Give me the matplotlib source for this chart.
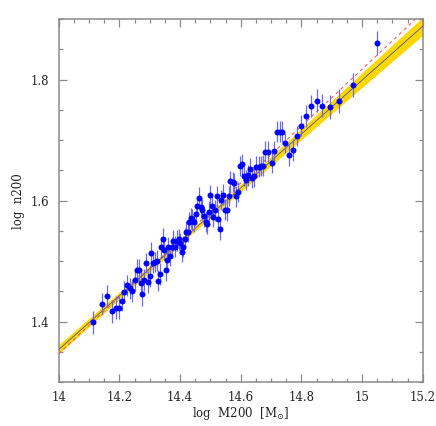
import matplotlib
matplotlib.use("Agg")
import matplotlib.pyplot as plt
from matplotlib.ticker import MultipleLocator, FixedLocator
import numpy as np

# ---- data ----
log_m200 = [14.112, 14.142, 14.159, 14.176, 14.188, 14.199, 14.209, 14.216, 14.225, 14.234,
            14.243, 14.251, 14.257, 14.266, 14.270, 14.276, 14.281, 14.287, 14.295, 14.300,
            14.305, 14.311, 14.319, 14.325, 14.327, 14.333, 14.337, 14.343, 14.347, 14.353,
            14.357, 14.362, 14.367, 14.373, 14.378, 14.385, 14.390, 14.396, 14.401, 14.405,
            14.411, 14.416, 14.421, 14.425, 14.430, 14.435, 14.441, 14.446, 14.453, 14.457,
            14.463, 14.468, 14.474, 14.479, 14.485, 14.489, 14.495, 14.499, 14.504, 14.510,
            14.515, 14.521, 14.525, 14.531, 14.536, 14.542, 14.547, 14.554, 14.560, 14.566,
            14.573, 14.579, 14.585, 14.591, 14.598, 14.604, 14.611, 14.618, 14.624, 14.632,
            14.638, 14.645, 14.652, 14.659, 14.666, 14.674, 14.681, 14.689, 14.702, 14.710,
            14.721, 14.730, 14.737, 14.746, 14.758, 14.771, 14.785, 14.799, 14.814, 14.831,
            14.851, 14.869, 14.893, 14.923, 14.969, 15.049]
log_n200 = [1.399, 1.429, 1.442, 1.417, 1.423, 1.423, 1.435, 1.449, 1.460, 1.455,
            1.451, 1.469, 1.486, 1.486, 1.464, 1.445, 1.469, 1.497, 1.466, 1.476,
            1.514, 1.497, 1.499, 1.501, 1.468, 1.479, 1.523, 1.537, 1.519, 1.485,
            1.502, 1.523, 1.509, 1.523, 1.534, 1.524, 1.534, 1.536, 1.530, 1.516,
            1.524, 1.537, 1.549, 1.549, 1.564, 1.571, 1.569, 1.565, 1.578, 1.591,
            1.605, 1.589, 1.585, 1.574, 1.565, 1.562, 1.582, 1.609, 1.591, 1.573,
            1.584, 1.607, 1.570, 1.553, 1.601, 1.610, 1.585, 1.584, 1.608, 1.632,
            1.631, 1.629, 1.607, 1.614, 1.657, 1.660, 1.641, 1.634, 1.642, 1.653,
            1.638, 1.640, 1.656, 1.656, 1.657, 1.658, 1.681, 1.681, 1.662, 1.682,
            1.714, 1.714, 1.714, 1.695, 1.676, 1.684, 1.707, 1.724, 1.740, 1.756,
            1.765, 1.757, 1.755, 1.765, 1.791, 1.860]
n200_err = [0.019, 0.018, 0.018, 0.019, 0.019, 0.019, 0.018, 0.018, 0.018, 0.018,
            0.018, 0.018, 0.018, 0.018, 0.018, 0.019, 0.018, 0.017, 0.018, 0.018,
            0.017, 0.017, 0.017, 0.017, 0.018, 0.018, 0.017, 0.017, 0.017, 0.018,
            0.017, 0.017, 0.017, 0.017, 0.017, 0.017, 0.017, 0.017, 0.017, 0.017,
            0.017, 0.017, 0.017, 0.017, 0.017, 0.017, 0.017, 0.017, 0.017, 0.017,
            0.017, 0.017, 0.017, 0.017, 0.017, 0.017, 0.017, 0.017, 0.017, 0.017,
            0.017, 0.017, 0.017, 0.018, 0.017, 0.017, 0.017, 0.017, 0.017, 0.017,
            0.017, 0.017, 0.017, 0.017, 0.017, 0.017, 0.017, 0.017, 0.017, 0.017,
            0.017, 0.017, 0.017, 0.017, 0.017, 0.017, 0.017, 0.017, 0.017, 0.017,
            0.017, 0.017, 0.017, 0.017, 0.018, 0.018, 0.017, 0.017, 0.018, 0.018,
            0.019, 0.019, 0.020, 0.020, 0.020, 0.020]

# best-fit relation and its uncertainty band
fit_x = [14.0, 15.2]
fit_y = [1.354, 1.888]
band_x = [14.0, 14.45, 15.2]
band_lo = [1.347, 1.550, 1.873]
band_hi = [1.362, 1.558, 1.903]
alt_x = [14.0, 15.2]
alt_y = [1.347, 1.911]

xticks = [14, 14.2, 14.4, 14.6, 14.8, 15, 15.2]
xticklabels = ["14", "14.2", "14.4", "14.6", "14.8", "15", "15.2"]
yticks = [1.4, 1.6, 1.8]
yticklabels = ["1.4", "1.6", "1.8"]

plt.rcParams['font.family'] = ['DejaVu Serif']
plt.rcParams['mathtext.fontset'] = 'dejavuserif'

fig = plt.figure(figsize=(4.36, 4.26), dpi=100)
ax = fig.add_axes([0.1346, 0.1026, 0.8349, 0.8528])

ax.fill_between(band_x, band_lo, band_hi, color='#ffd700', lw=0, zorder=1)
ax.plot(alt_x, alt_y, color='#ff5a5a', lw=0.8, dashes=(3, 3), zorder=2)
ax.plot(fit_x, fit_y, color='#5050a8', lw=0.6, zorder=3)
ax.errorbar(log_m200, log_n200, yerr=n200_err, fmt='none', ecolor='#6a6af0',
            elinewidth=0.9, capsize=0, zorder=4)
ax.plot(log_m200, log_n200, 'o', color='#0000ff', ms=4.3, mec='none', zorder=5)

ax.set_xlim(14, 15.2)
ax.set_ylim(1.3, 1.9)
ax.xaxis.set_major_locator(FixedLocator(xticks))
ax.set_xticklabels(xticklabels)
ax.yaxis.set_major_locator(FixedLocator(yticks))
ax.set_yticklabels(yticklabels)
ax.xaxis.set_minor_locator(MultipleLocator(0.05))
ax.yaxis.set_minor_locator(MultipleLocator(0.05))

frame_col = '#8a8a8a'
for s in ax.spines.values():
    s.set_color(frame_col)
    s.set_linewidth(1.1)
ax.tick_params(which='both', direction='in', top=True, right=True, color=frame_col,
               labelcolor='#222222', labelsize=8.5)
ax.tick_params(which='major', length=5.5, width=0.9)
ax.tick_params(which='minor', length=2.8, width=0.9)
ax.tick_params(axis='x', which='major', pad=6)
ax.tick_params(axis='y', which='major', pad=7)

ax.set_xlabel(r'log  M200  [M$_{\odot}$]', fontsize=8.5, color='#222222', labelpad=1)
ax.set_ylabel('log  n200', fontsize=8.5, color='#222222', labelpad=4)

fig.savefig('out.png', dpi=100)
